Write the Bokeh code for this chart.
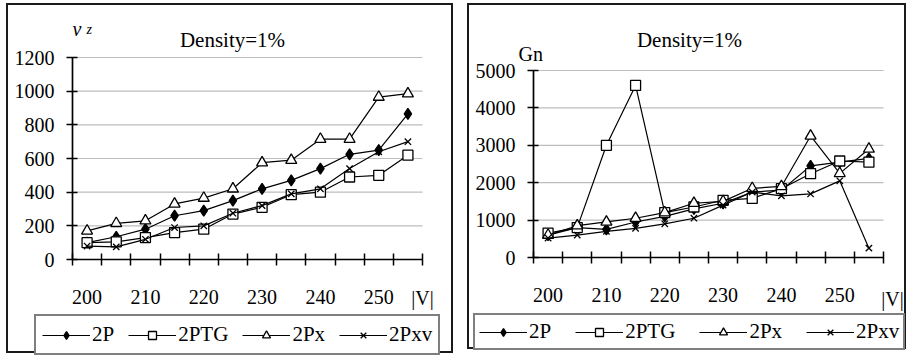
from bokeh.plotting import figure
from bokeh.models import FixedTicker, Legend, LegendItem, Label, Range1d, LinearAxis
from bokeh.layouts import row
from bokeh.embed import file_html
from bokeh.resources import INLINE

FONT = "Liberation Serif"

# ---------------- data ----------------
sizes = [200, 205, 210, 215, 220, 225, 230, 235, 240, 245, 250, 255]
size_labels = [200, 210, 220, 230, 240, 250]
series_names = ["2P", "2PTG", "2Px", "2Pxv"]

# left chart: nu_z
nu_2P = [100, 135, 180, 260, 290, 350, 420, 470, 540, 625, 650, 865]
nu_2PTG = [100, 105, 130, 160, 180, 270, 310, 385, 400, 490, 500, 620]
nu_2Px = [170, 215, 230, 330, 365, 420, 575, 590, 715, 715, 965, 985]
nu_2Pxv = [80, 75, 120, 190, 200, 275, 320, 390, 420, 540, 640, 700]
nu_ticks = [0, 200, 400, 600, 800, 1000, 1200]

# right chart: Gn
gn_2P = [600, 800, 750, 950, 1100, 1300, 1450, 1750, 1800, 2450, 2550, 2650]
gn_2PTG = [650, 800, 3000, 4600, 1200, 1350, 1530, 1580, 1840, 2240, 2580, 2550]
gn_2Px = [600, 850, 950, 1050, 1200, 1450, 1500, 1850, 1900, 3250, 2250, 2900]
gn_2Pxv = [520, 600, 700, 780, 900, 1050, 1400, 1750, 1650, 1700, 2050, 250]
gn_ticks = [0, 1000, 2000, 3000, 4000, 5000]

title_text = "Density=1%"
x_unit = "|V|"

markers = {
    "2P": dict(marker="diamond", size=11, fill_color="black"),
    "2PTG": dict(marker="square", size=10, fill_color="white"),
    "2Px": dict(marker="triangle", size=11, fill_color="white"),
    "2Pxv": dict(marker="x", size=9, fill_color="white"),
}


class Panel:
    """A chart whose frame fills the canvas; axes are pinned inside it."""

    def __init__(self, w, h, values, yticks, ax_left, ax_right, ax_top, ax_bottom):
        step = sizes[1] - sizes[0]
        self.x0 = sizes[0] - step / 2
        self.x1 = sizes[-1] + step / 2
        self.y0 = yticks[0]
        self.y1 = yticks[-1]
        sx = (self.x1 - self.x0) / (ax_right - ax_left)
        sy = (self.y1 - self.y0) / (ax_bottom - ax_top)
        self.sx, self.sy, self.ax_left, self.ax_bottom = sx, sy, ax_left, ax_bottom
        xr = Range1d(self.x0 - ax_left * sx, self.x0 + (w - ax_left) * sx)
        yr = Range1d(self.y0 - (h - ax_bottom) * sy, self.y0 + ax_bottom * sy)
        p = figure(width=w, height=h, output_backend="svg", toolbar_location=None,
                   x_range=xr, y_range=yr, x_axis_type=None, y_axis_type=None,
                   min_border=0)
        p.title.visible = False
        p.outline_line_color = None
        p.background_fill_color = "white"
        p.border_fill_color = "white"
        p.styles = {"border": "2px solid #1a1a1a"}
        p.grid.visible = False
        self.p = p

        # grid lines over the axis box
        glines = [t for t in yticks if t != yticks[0]]
        p.segment(x0=[self.x0] * len(glines), x1=[self.x1] * len(glines),
                  y0=glines, y1=glines, line_color="#bdbdbd", line_width=1.2)

        bounds = [s - step / 2 for s in sizes] + [sizes[-1] + step / 2]
        xa = LinearAxis(ticker=FixedTicker(ticks=size_labels, minor_ticks=bounds),
                        fixed_location=self.y0, bounds=(self.x0, self.x1))
        xa.major_tick_in = 0
        xa.major_tick_out = 0
        xa.minor_tick_in = 6
        xa.minor_tick_out = 6
        xa.minor_tick_line_color = "black"
        xa.minor_tick_line_width = 1.5
        xa.axis_line_color = "black"
        xa.axis_line_width = 1.7
        xa.major_label_standoff = 24
        xa.major_label_text_font = FONT
        xa.major_label_text_font_size = "20px"
        xa.major_label_text_color = "black"
        p.add_layout(xa, "below")

        ya = LinearAxis(ticker=FixedTicker(ticks=yticks), fixed_location=self.x0,
                        bounds=(self.y0, self.y1))
        ya.major_tick_in = 5
        ya.major_tick_out = 6
        ya.major_tick_line_width = 1.5
        ya.minor_tick_line_color = None
        ya.axis_line_color = "black"
        ya.axis_line_width = 1.7
        ya.major_label_standoff = 12
        ya.major_label_text_font = FONT
        ya.major_label_text_font_size = "20px"
        ya.major_label_text_color = "black"
        p.add_layout(ya, "left")

        self.items = []
        for name, vals in zip(series_names, values):
            lr = p.line(sizes, vals, line_color="black", line_width=1.2)
            sr = p.scatter(sizes, vals, line_color="black", line_width=1.3, **markers[name])
            self.items.append(LegendItem(label=name, renderers=[lr, sr]))

    def px(self, x):
        return self.x0 + (x - self.ax_left) * self.sx

    def py(self, y):
        return self.y0 + (self.ax_bottom - y) * self.sy

    def legend(self, loc, pad, spacing):
        leg = Legend(items=self.items, orientation="horizontal", location=loc,
                     border_line_color="black", border_line_width=2,
                     background_fill_color="white", background_fill_alpha=1,
                     padding=pad, spacing=spacing, margin=0,
                     glyph_width=48, glyph_height=20, label_standoff=2,
                     label_text_font=FONT, label_text_font_size="21px",
                     label_text_color="black")
        self.p.add_layout(leg)

    def text(self, x, y, t, size="20px", align="left", baseline="alphabetic", style="normal"):
        self.p.add_layout(Label(x=self.px(x), y=self.py(y), text=t, text_align=align,
                                text_baseline=baseline, text_font=FONT,
                                text_font_style=style, text_font_size=size,
                                text_color="black"))


# left panel: canvas 447x350, axis box 64..414 x 52..254 (canvas px)
L = Panel(447, 350, [nu_2P, nu_2PTG, nu_2Px, nu_2Pxv], nu_ticks, 64, 414, 52, 254)
L.legend((26, 0), 6, 14)
L.text(224, 34, title_text, size="21px", align="center")
L.text(64, 23, "ν", size="20px", style="italic")
L.text(78, 24, "z", size="14px", style="italic")
L.text(414, 292, x_unit, align="center", baseline="middle")

# right panel: canvas 439x346, axis box 64..414 x 65..252
R = Panel(439, 346, [gn_2P, gn_2PTG, gn_2Px, gn_2Pxv], gn_ticks, 64, 414, 65, 252)
R.legend((4, 1), 4, 24)
R.text(220, 34, title_text, size="21px", align="center")
R.text(49, 48, "Gn", size="20px")
R.text(423, 293, x_unit, align="center", baseline="middle")

L.p.margin = (3, 0, 0, 6)
R.p.margin = (3, 0, 0, 14)

layout = row(L.p, R.p)
open("out.html", "w").write(file_html(layout, INLINE))
